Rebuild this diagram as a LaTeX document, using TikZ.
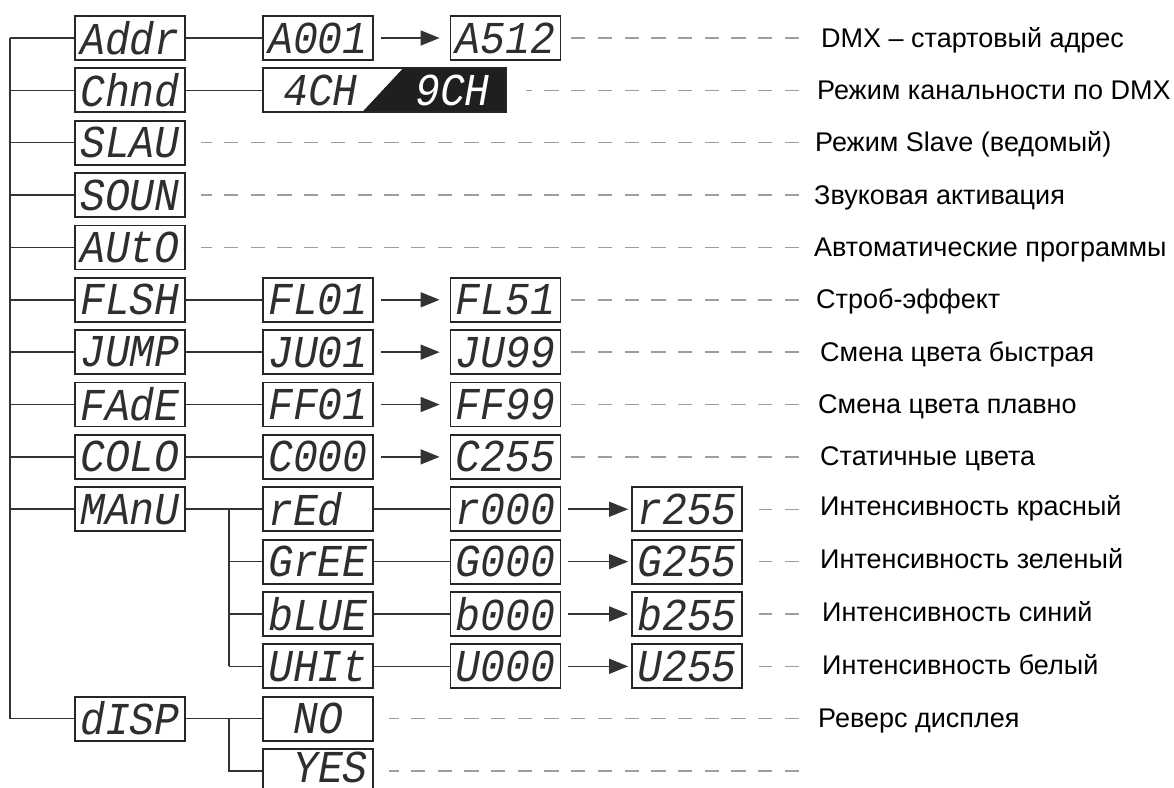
\documentclass[tikz,border=0pt]{standalone}
\usepackage{fontspec}
\usepackage{graphicx}
\usetikzlibrary{arrows.meta}
\setmainfont{Liberation Sans}
\newfontfamily\segfont{Liberation Mono}
\newcommand\sg[1]{\scalebox{1}[1.1]{\segfont\itshape\fontsize{41.5}{41.5}\selectfont #1}}
\begin{document}
\begin{tikzpicture}[x=1pt,y=-1pt,
  box/.style={draw=black!85, line width=1.8pt, minimum width=110pt, minimum height=44pt, inner sep=0pt, text=black!82},
  wire/.style={draw=black!80, line width=1.5pt},
  arr/.style={wire, -{Triangle[length=19pt,width=15pt]}},
  dsh/.style={draw=black!38, line width=1.4pt, dash pattern=on 14.3pt off 12.4pt},
  lab/.style={anchor=base west, inner sep=0pt, font=\fontsize{27}{31}\selectfont}]
\useasboundingbox (0,0) rectangle (1174,787);
\coordinate (trunk) at (10,38);
\coordinate (mj) at (229,509.24);
% column 1
\node[box] (addr) at (130,38) {\sg{Addr}};
\node[box] (chnd) at (130,90.36) {\sg{Chnd}};
\node[box] (slau) at (130,142.72) {\sg{SLAU}};
\node[box] (soun) at (130,195.08) {\sg{SOUN}};
\node[box] (auto) at (130,247.44) {\sg{AUtO}};
\node[box] (flsh) at (130,299.8) {\sg{FLSH}};
\node[box] (jump) at (130,352.16) {\sg{JUMP}};
\node[box] (fade) at (130,404.52) {\sg{FAdE}};
\node[box] (colo) at (130,456.88) {\sg{COLO}};
\node[box] (manu) at (130,509.24) {\sg{MAnU}};
\node[box] (disp) at (130,718.68) {\sg{dISP}};
% column 2
\node[box] (a001) at (318,38) {\sg{A001}};
\fill[black!88] (403,68.36) -- (506,68.36) -- (506,112.36) -- (362,112.36) -- cycle;
\node[box, minimum width=243pt] (chm) at (384.5,90.36) {};
\node[text=black!82, inner sep=0pt] (c4) at (320.5,90.36) {\sg{4CH}};
\node[text=white, inner sep=0pt] (c9) at (452.5,90.36) {\sg{9CH}};
\node[box] (fl01) at (318,299.8) {\sg{FL01}};
\node[box] (ju01) at (318,352.16) {\sg{JU01}};
\node[box] (ff01) at (318,404.52) {\sg{FF01}};
\node[box] (c000) at (318,456.88) {\sg{C000}};
\node[box] (red) at (318,509.24) {\sg{rEd~}};
\node[box] (gree) at (318,561.6) {\sg{GrEE}};
\node[box] (blue) at (318,613.96) {\sg{bLUE}};
\node[box] (whit) at (318,666.32) {\sg{UHIt}};
\node[box] (no) at (318,718.68) {\sg{~NO~}};
\node[box] (yes) at (318,771.04) {};
\node[text=black!82, inner sep=0pt, yshift=4pt] (yest) at (yes.center) {\sg{~YES}};
% column 3
\node[box] (a512) at (505.5,38) {\sg{A512}};
\node[box] (fl51) at (505.5,299.8) {\sg{FL51}};
\node[box] (ju99) at (505.5,352.16) {\sg{JU99}};
\node[box] (ff99) at (505.5,404.52) {\sg{FF99}};
\node[box] (c255) at (505.5,456.88) {\sg{C255}};
\node[box] (r000) at (505.5,509.24) {\sg{r000}};
\node[box] (g000) at (505.5,561.6) {\sg{G000}};
\node[box] (b000) at (505.5,613.96) {\sg{b000}};
\node[box] (u000) at (505.5,666.32) {\sg{U000}};
% column 4
\node[box] (r255) at (687,509.24) {\sg{r255}};
\node[box] (g255) at (687,561.6) {\sg{G255}};
\node[box] (b255) at (687,613.96) {\sg{b255}};
\node[box] (u255) at (687,666.32) {\sg{U255}};
% trunk
\draw[wire] (addr.west -| trunk) -- (disp.west -| trunk);
\foreach \n in {addr,chnd,slau,soun,auto,flsh,jump,fade,colo,manu,disp}
  \draw[wire] (\n.west -| trunk) -- (\n.west);
% first level links
\draw[wire] (addr) -- (a001);
\draw[wire] (chnd) -- (chm);
\draw[wire] (flsh) -- (fl01);
\draw[wire] (jump) -- (ju01);
\draw[wire] (fade) -- (ff01);
\draw[wire] (colo) -- (c000);
\draw[wire] (manu) -- (red);
\draw[wire] (manu.east -| mj) -- (whit.west -| mj);
\foreach \n in {gree,blue,whit}
  \draw[wire] (\n.west -| mj) -- (\n.west);
\draw[wire] (red) -- (r000);
\draw[wire] (gree) -- (g000);
\draw[wire] (blue) -- (b000);
\draw[wire] (whit) -- (u000);
\draw[wire] (disp) -- (no);
\draw[wire] (disp.east -| mj) -- (yes.west -| mj) -- (yes.west);
% arrows
\draw[arr] ([xshift=7pt]a001.east) -- ([xshift=-10pt]a512.west);
\draw[arr] ([xshift=7pt]fl01.east) -- ([xshift=-10pt]fl51.west);
\draw[arr] ([xshift=7pt]ju01.east) -- ([xshift=-10pt]ju99.west);
\draw[arr] ([xshift=7pt]ff01.east) -- ([xshift=-10pt]ff99.west);
\draw[arr] ([xshift=7pt]c000.east) -- ([xshift=-10pt]c255.west);
\draw[arr] ([xshift=7pt]r000.east) -- ([xshift=-3pt]r255.west);
\draw[arr] ([xshift=7pt]g000.east) -- ([xshift=-3pt]g255.west);
\draw[arr] ([xshift=7pt]b000.east) -- ([xshift=-3pt]b255.west);
\draw[arr] ([xshift=7pt]u000.east) -- ([xshift=-3pt]u255.west);
% dash ends
\foreach \i/\y in {1/38,2/90.36,3/142.72,4/195.08,5/247.44,6/299.8,7/352.16,8/404.52,9/456.88,10/509.24,11/561.6,12/613.96,13/666.32,14/718.68,15/771.04}
  \coordinate (e\i) at (799,\y);
\draw[dsh] (e1) -- ([xshift=7pt]a512.east);
\draw[dsh] (e2) -- ([xshift=19pt]chm.east);
\draw[dsh] (e3) -- ([xshift=15pt]slau.east);
\draw[dsh] (e4) -- ([xshift=15pt]soun.east);
\draw[dsh] (e5) -- ([xshift=15pt]auto.east);
\draw[dsh] (e6) -- ([xshift=7pt]fl51.east);
\draw[dsh] (e7) -- ([xshift=7pt]ju99.east);
\draw[dsh] (e8) -- ([xshift=7pt]ff99.east);
\draw[dsh] (e9) -- ([xshift=7pt]c255.east);
\draw[dsh] (e10) -- ([xshift=16pt]r255.east);
\draw[dsh] (e11) -- ([xshift=16pt]g255.east);
\draw[dsh] (e12) -- ([xshift=16pt]b255.east);
\draw[dsh] (e13) -- ([xshift=16pt]u255.east);
\draw[dsh] (e14) -- ([xshift=15pt]no.east);
\draw[dsh] (e15) -- ([xshift=15pt]yes.east);
% labels
\node[lab] (l1) at (821,47) {DMX – стартовый адрес};
\node[lab] (l2) at (817,99.36) {Режим канальности по DMX};
\node[lab] (l3) at (815,151.72) {Режим Slave (ведомый)};
\node[lab] (l4) at (814,204.08) {Звуковая активация};
\node[lab] (l5) at (814,256.44) {Автоматические программы};
\node[lab] (l6) at (816,308.8) {Строб-эффект};
\node[lab] (l7) at (820,361.16) {Смена цвета быстрая};
\node[lab] (l8) at (818,413.52) {Смена цвета плавно};
\node[lab] (l9) at (820,465.88) {Статичные цвета};
\node[lab] (l10) at (820,515.24) {Интенсивность красный};
\node[lab] (l11) at (820,568.6) {Интенсивность зеленый};
\node[lab] (l12) at (822,621.96) {Интенсивность синий};
\node[lab] (l13) at (822,674.32) {Интенсивность белый};
\node[lab] (l14) at (818,727.68) {Реверс дисплея};
\end{tikzpicture}
\end{document}
